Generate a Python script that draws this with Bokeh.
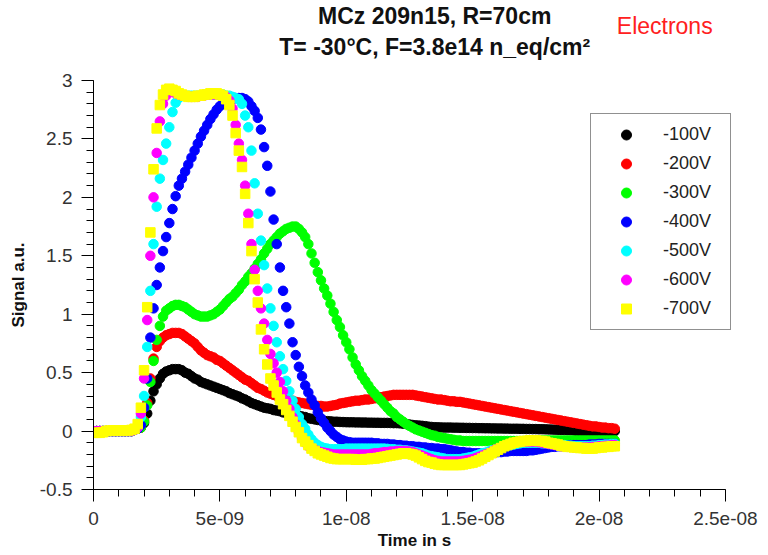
from bokeh.plotting import figure
from bokeh.layouts import column
from bokeh.models import Range1d, FixedTicker, CustomJSTickFormatter, Label
from bokeh.embed import file_html
from bokeh.resources import INLINE

# sampling step of the scope (s)
DT = 0.125e-9

labels = ["-100V", "-200V", "-300V", "-400V", "-500V", "-600V", "-700V"]
colors = ["#000000", "#ff0000", "#00ff00", "#0000ff", "#00ffff", "#ff00ff", "#ffff00"]
markers = ["circle", "circle", "circle", "circle", "circle", "circle", "square"]

v100 = [
0,0,0,0,0,0,0,0,
0,0,0,0,0,0.01,0.02,0.03,
0.07,0.15,0.26,0.34,0.40,0.45,0.49,0.51,
0.52,0.53,0.53,0.53,0.52,0.50,0.49,0.47,
0.45,0.44,0.42,0.41,0.40,0.39,0.38,0.37,
0.36,0.35,0.34,0.325,0.315,0.305,0.295,0.28,
0.27,0.255,0.24,0.23,0.22,0.21,0.20,0.195,
0.19,0.18,0.175,0.17,0.16,0.155,0.15,0.14,
0.135,0.13,0.125,0.12,0.11,0.105,0.10,0.095,
0.09,0.088,0.085,0.083,0.08,0.08,0.078,0.077,
0.076,0.075,0.075,0.074,0.074,0.073,0.073,0.072,
0.072,0.071,0.071,0.07,0.07,0.07,0.069,0.068,
0.068,0.066,0.063,0.06,0.056,0.052,0.049,0.047,
0.045,0.042,0.038,0.035,0.033,0.032,0.031,0.03,
0.03,0.03,0.029,0.029,0.028,0.028,0.027,0.027,
0.026,0.026,0.025,0.025,0.024,0.024,0.023,0.023,
0.022,0.022,0.021,0.021,0.02,0.02,0.02,0.019,
0.019,0.018,0.018,0.017,0.017,0.016,0.016,0.015,
0.014,0.013,0.012,0.011,0.01,0.009,0.008,0.007,
0.005,0.0,0.0,-0.005,-0.015,-0.025,-0.03,-0.025,
-0.02,-0.015,-0.01,-0.005,0.0,0.0]

v200 = [
0,0,0,0,0,0,0,0,
0,0,0,0,0,0.01,0.02,0.03,
0.09,0.24,0.45,0.62,0.72,0.77,0.80,0.82,
0.83,0.84,0.84,0.84,0.83,0.81,0.79,0.77,
0.75,0.72,0.69,0.67,0.65,0.64,0.63,0.61,
0.60,0.58,0.56,0.54,0.52,0.50,0.48,0.46,
0.44,0.43,0.41,0.39,0.37,0.36,0.345,0.33,
0.32,0.31,0.30,0.29,0.28,0.27,0.265,0.26,
0.25,0.245,0.24,0.235,0.23,0.225,0.22,0.215,
0.215,0.21,0.21,0.215,0.22,0.225,0.235,0.24,
0.245,0.25,0.255,0.26,0.26,0.265,0.27,0.27,
0.275,0.28,0.285,0.29,0.295,0.30,0.305,0.31,
0.31,0.31,0.31,0.31,0.31,0.31,0.305,0.30,
0.295,0.29,0.285,0.28,0.275,0.27,0.27,0.265,
0.26,0.255,0.255,0.25,0.25,0.245,0.24,0.235,
0.23,0.225,0.22,0.215,0.21,0.205,0.20,0.195,
0.19,0.185,0.18,0.175,0.17,0.165,0.16,0.155,
0.15,0.145,0.14,0.135,0.13,0.125,0.12,0.115,
0.11,0.105,0.10,0.095,0.09,0.085,0.08,0.075,
0.07,0.065,0.06,0.055,0.05,0.045,0.04,0.04,
0.035,0.03,0.03,0.025,0.025,0.02]

v300 = [
0,0,0,0,0,0,0,0,
0,0,0,0,0,0.01,0.02,0.03,
0.08,0.22,0.42,0.60,0.78,0.90,0.98,1.03,
1.05,1.07,1.08,1.08,1.07,1.06,1.04,1.02,
1.00,0.99,0.98,0.98,0.98,0.99,1.00,1.02,
1.04,1.07,1.10,1.13,1.15,1.18,1.21,1.25,
1.28,1.32,1.35,1.39,1.43,1.47,1.52,1.56,
1.60,1.63,1.66,1.69,1.71,1.73,1.74,1.75,
1.75,1.73,1.70,1.66,1.60,1.52,1.44,1.36,
1.29,1.22,1.16,1.09,1.02,0.95,0.89,0.82,
0.76,0.70,0.63,0.57,0.52,0.47,0.43,0.39,
0.35,0.32,0.29,0.26,0.23,0.20,0.17,0.15,
0.12,0.10,0.08,0.06,0.045,0.03,0.015,0.005,
-0.005,-0.015,-0.025,-0.035,-0.04,-0.05,-0.055,-0.06,
-0.065,-0.07,-0.075,-0.08,-0.08,-0.085,-0.085,-0.085,
-0.085,-0.085,-0.085,-0.085,-0.085,-0.085,-0.085,-0.085,
-0.085,-0.085,-0.085,-0.085,-0.085,-0.085,-0.085,-0.085,
-0.085,-0.085,-0.08,-0.08,-0.08,-0.08,-0.08,-0.08,
-0.08,-0.08,-0.08,-0.08,-0.08,-0.08,-0.08,-0.08,
-0.08,-0.08,-0.08,-0.08,-0.08,-0.08,-0.08,-0.08,
-0.08,-0.08,-0.08,-0.08,-0.08,-0.08]

v400 = [
0,0,0,0,0,0,0,0,
0,0,0,0,0,0.01,0.02,0.05,
0.20,0.45,0.80,1.05,1.25,1.40,1.54,1.66,
1.78,1.90,2.01,2.10,2.16,2.22,2.28,2.34,
2.40,2.46,2.52,2.57,2.62,2.67,2.71,2.75,
2.78,2.80,2.82,2.83,2.84,2.85,2.85,2.85,
2.84,2.82,2.78,2.74,2.68,2.58,2.43,2.27,
2.05,1.81,1.60,1.40,1.20,1.06,0.92,0.76,
0.65,0.55,0.47,0.39,0.33,0.27,0.22,0.16,
0.11,0.07,0.03,0.0,-0.03,-0.05,-0.07,-0.08,
-0.09,-0.095,-0.10,-0.10,-0.10,-0.10,-0.10,-0.10,
-0.10,-0.105,-0.105,-0.11,-0.11,-0.11,-0.115,-0.115,
-0.12,-0.12,-0.125,-0.125,-0.13,-0.13,-0.135,-0.135,
-0.14,-0.14,-0.145,-0.145,-0.15,-0.15,-0.155,-0.155,
-0.16,-0.165,-0.17,-0.175,-0.18,-0.18,-0.185,-0.185,
-0.19,-0.19,-0.19,-0.19,-0.19,-0.19,-0.185,-0.185,
-0.18,-0.18,-0.175,-0.175,-0.17,-0.17,-0.17,-0.17,
-0.17,-0.17,-0.165,-0.165,-0.16,-0.155,-0.15,-0.145,
-0.14,-0.135,-0.135,-0.13,-0.13,-0.125,-0.125,-0.12,
-0.12,-0.12,-0.12,-0.12,-0.12,-0.115,-0.115,-0.115,
-0.11,-0.11,-0.11,-0.11,-0.11,-0.11]

v500 = [
0,0,0,0,0,0,0,0,
0,0,0,0,0,0.01,0.03,0.12,
0.30,0.72,1.20,1.60,1.92,2.16,2.32,2.46,
2.60,2.73,2.81,2.85,2.87,2.87,2.87,2.87,
2.87,2.87,2.87,2.88,2.88,2.88,2.88,2.88,
2.88,2.88,2.87,2.87,2.86,2.85,2.84,2.80,
2.70,2.60,2.40,2.12,1.86,1.63,1.42,1.22,
1.05,0.90,0.76,0.64,0.53,0.43,0.34,0.26,
0.19,0.12,0.06,0.02,-0.03,-0.07,-0.10,-0.12,
-0.135,-0.145,-0.15,-0.155,-0.155,-0.155,-0.155,-0.155,
-0.15,-0.15,-0.15,-0.15,-0.15,-0.15,-0.15,-0.15,
-0.15,-0.15,-0.15,-0.15,-0.15,-0.152,-0.155,-0.155,
-0.16,-0.16,-0.165,-0.165,-0.17,-0.175,-0.18,-0.185,
-0.19,-0.20,-0.21,-0.215,-0.22,-0.225,-0.23,-0.235,
-0.24,-0.24,-0.24,-0.24,-0.24,-0.235,-0.23,-0.225,
-0.22,-0.21,-0.20,-0.19,-0.185,-0.175,-0.165,-0.16,
-0.15,-0.14,-0.13,-0.125,-0.12,-0.115,-0.11,-0.105,
-0.10,-0.10,-0.10,-0.10,-0.10,-0.10,-0.105,-0.105,
-0.11,-0.11,-0.115,-0.115,-0.12,-0.12,-0.125,-0.125,
-0.13,-0.13,-0.13,-0.13,-0.13,-0.13,-0.125,-0.125,
-0.12,-0.12,-0.115,-0.115,-0.11,-0.11]

v600 = [
0,0,0,0,0,0,0,0,
0,0,0,0,0,0.01,0.03,0.15,
0.45,0.95,1.50,2.00,2.38,2.65,2.80,2.87,
2.90,2.90,2.89,2.88,2.87,2.87,2.86,2.86,
2.86,2.86,2.87,2.87,2.88,2.88,2.88,2.88,
2.88,2.87,2.86,2.83,2.76,2.62,2.46,2.32,
2.10,1.86,1.60,1.38,1.20,1.05,0.92,0.78,
0.66,0.58,0.50,0.42,0.34,0.26,0.19,0.12,
0.06,-0.01,-0.06,-0.10,-0.13,-0.145,-0.16,-0.17,
-0.18,-0.185,-0.19,-0.195,-0.20,-0.20,-0.20,-0.20,
-0.20,-0.20,-0.20,-0.20,-0.20,-0.20,-0.20,-0.20,
-0.195,-0.19,-0.19,-0.185,-0.18,-0.18,-0.175,-0.175,
-0.17,-0.17,-0.17,-0.17,-0.175,-0.18,-0.19,-0.20,
-0.21,-0.22,-0.23,-0.24,-0.25,-0.255,-0.26,-0.26,
-0.26,-0.26,-0.26,-0.26,-0.26,-0.255,-0.25,-0.245,
-0.24,-0.23,-0.22,-0.21,-0.20,-0.19,-0.175,-0.16,
-0.15,-0.14,-0.13,-0.12,-0.11,-0.10,-0.095,-0.09,
-0.09,-0.09,-0.09,-0.09,-0.09,-0.095,-0.10,-0.105,
-0.11,-0.115,-0.12,-0.125,-0.13,-0.13,-0.135,-0.135,
-0.14,-0.14,-0.14,-0.14,-0.14,-0.14,-0.135,-0.135,
-0.13,-0.13,-0.125,-0.125,-0.12,-0.12]

v700 = [
-0.015,-0.015,-0.015,-0.01,0.0,0.005,0.005,0.005,
0.005,0.005,0.005,0.005,0.01,0.02,0.06,0.20,
0.52,1.06,1.70,2.24,2.59,2.79,2.88,2.92,
2.93,2.92,2.91,2.89,2.88,2.87,2.86,2.86,
2.86,2.87,2.87,2.88,2.88,2.89,2.89,2.89,
2.88,2.87,2.84,2.79,2.70,2.55,2.40,2.26,
2.03,1.78,1.54,1.30,1.10,0.87,0.70,0.57,
0.45,0.39,0.33,0.27,0.23,0.18,0.13,0.08,
0.035,-0.01,-0.06,-0.09,-0.12,-0.15,-0.17,-0.19,
-0.20,-0.21,-0.22,-0.23,-0.235,-0.24,-0.24,-0.24,
-0.24,-0.24,-0.24,-0.245,-0.245,-0.245,-0.24,-0.24,
-0.235,-0.235,-0.23,-0.225,-0.22,-0.215,-0.21,-0.205,
-0.20,-0.195,-0.19,-0.19,-0.195,-0.20,-0.21,-0.225,
-0.24,-0.255,-0.265,-0.27,-0.28,-0.285,-0.29,-0.29,
-0.29,-0.29,-0.29,-0.29,-0.29,-0.285,-0.28,-0.275,
-0.27,-0.26,-0.25,-0.235,-0.22,-0.205,-0.19,-0.175,
-0.16,-0.145,-0.13,-0.12,-0.11,-0.10,-0.095,-0.09,
-0.085,-0.085,-0.08,-0.08,-0.08,-0.085,-0.085,-0.09,
-0.10,-0.105,-0.11,-0.115,-0.125,-0.13,-0.135,-0.135,
-0.14,-0.14,-0.145,-0.145,-0.15,-0.15,-0.15,-0.145,
-0.14,-0.14,-0.135,-0.135,-0.13,-0.13]

series = [v100, v200, v300, v400, v500, v600, v700]

x_major = [0, 5e-9, 1e-8, 1.5e-8, 2e-8, 2.5e-8]
x_minor = [i * 1e-9 for i in range(26)]
y_major = [-0.5, 0, 0.5, 1, 1.5, 2, 2.5, 3]
y_minor = [round(-0.5 + 0.1 * i, 2) for i in range(36)]

FONT = "Liberation Sans"
W = 760
BL, BR = 93, 25

# the frame reaches a little past 2.5e-08 so the legend box is not clipped;
# the axis itself stops at 2.5e-08 (bounds)
x_range = Range1d(0, 2.54e-8)

# ---- title strip ----
pt = figure(width=W, height=68, output_backend="svg", toolbar_location=None,
            title=None, x_range=x_range, y_range=Range1d(0, 68),
            x_axis_type=None, y_axis_type=None)
pt.min_border_left = BL
pt.min_border_right = BR
pt.min_border_top = 0
pt.min_border_bottom = 0
pt.outline_line_color = None
pt.background_fill_color = "white"
pt.border_fill_color = "white"

def add_text(fig, x, y, txt, size, style="normal", color="#111111"):
    fig.add_layout(Label(x=x, y=y, text=txt, text_font=FONT, text_font_size=size,
                         text_font_style=style, text_color=color,
                         text_align="center", text_baseline="middle"))

add_text(pt, 1.35e-8, 53, "MCz 209n15, R=70cm", "23px", "bold")
add_text(pt, 1.35e-8, 22, "T= -30°C, F=3.8e14 n_eq/cm²", "23px", "bold")
add_text(pt, 2.26e-8, 43, "Electrons", "23px", "normal", "#ff2020")

# ---- main plot ----
p = figure(width=W, height=485, output_backend="svg", toolbar_location=None,
           title=None, x_range=x_range, y_range=Range1d(-0.5, 3))
p.min_border_left = BL
p.min_border_right = BR
p.min_border_top = 12
p.min_border_bottom = 64
p.outline_line_color = None
p.background_fill_color = "white"
p.border_fill_color = "white"
p.xgrid.visible = False
p.ygrid.visible = False

for vals, lab, col, mk in zip(series, labels, colors, markers):
    t = [k * DT for k in range(len(vals))]
    p.scatter(t, vals, size=9.5, marker=mk, fill_color=col, line_color=col,
              legend_label=lab)

xa = p.xaxis[0]
xa.bounds = (0, 2.5e-8)
xa.ticker = FixedTicker(ticks=x_major, minor_ticks=x_minor)
xa.formatter = CustomJSTickFormatter(code="""
if (tick == 0) { return "0"; }
var s = tick.toExponential();
var m = s.split("e");
var e = parseInt(m[1]);
var a = Math.abs(e);
return m[0] + "e" + (e < 0 ? "-" : "+") + (a < 10 ? "0" + a : "" + a);
""")
ya = p.yaxis[0]
ya.ticker = FixedTicker(ticks=y_major, minor_ticks=y_minor)
ya.formatter = CustomJSTickFormatter(code="return tick.toString();")

for ax in (xa, ya):
    ax.axis_line_color = "black"
    ax.axis_line_width = 1
    ax.major_tick_line_color = "black"
    ax.minor_tick_line_color = "black"
    ax.major_tick_in = 0
    ax.major_tick_out = 12
    ax.minor_tick_in = 0
    ax.minor_tick_out = 7
    ax.major_label_text_font = FONT
    ax.major_label_text_font_size = "19px"
    ax.major_label_text_color = "#333333"
    ax.axis_label_text_font = FONT
    ax.axis_label_text_font_size = "17px"
    ax.axis_label_text_font_style = "bold"
    ax.axis_label_text_color = "#111111"

xa.major_label_standoff = 10
xa.axis_label = "Time in s"
xa.axis_label_standoff = 3
ya.major_label_standoff = 9
ya.axis_label = "Signal a.u."
ya.axis_label_standoff = 9

lg = p.legend[0]
lg.location = (497, 159)
lg.margin = 0
lg.padding = 8
lg.spacing = 4
lg.glyph_height = 25
lg.glyph_width = 54
lg.label_height = 25
lg.label_width = 59
lg.label_standoff = 10
lg.label_text_font = FONT
lg.label_text_font_size = "18px"
lg.label_text_color = "#222222"
lg.border_line_color = "#222222"
lg.border_line_width = 1.5
lg.background_fill_color = "white"
lg.background_fill_alpha = 1.0

layout = column(pt, p, spacing=0)
open("out.html", "w").write(file_html(layout, INLINE))
